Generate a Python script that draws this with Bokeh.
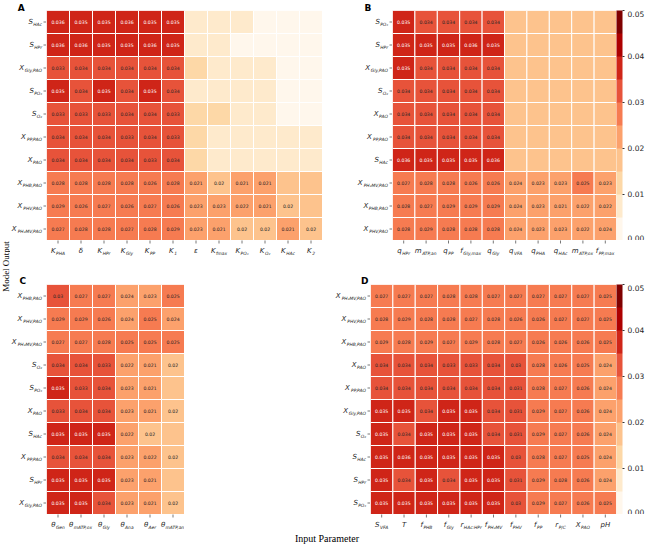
import math
from bokeh.plotting import figure
from bokeh.layouts import row, column
from bokeh.models import (ColumnDataSource, LinearColorMapper, ColorBar, FixedTicker,
                          PrintfTickFormatter, FactorRange, Range1d, Spacer)
from bokeh.core.properties import value
from bokeh.embed import file_html
from bokeh.resources import INLINE

# ---------------- data ----------------
A_rows = [("S", "HAc"), ("S", "HPr"), ("X", "Gly,PAO"), ("S", "PO₄"), ("S", "O₂"),
          ("X", "PP,PAO"), ("X", "PAO"), ("X", "PHB,PAO"), ("X", "PHV,PAO"), ("X", "PH₂MV,PAO")]
A_cols = [("K", "PHA"), ("δ", ""), ("K", "HPr"), ("K", "Gly"), ("K", "PP"), ("K", "1"),
          ("ε", ""), ("K", "fmax"), ("K", "PO₄"), ("K", "O₂"), ("K", "HAc"), ("K", "2")]
A_vals = [
    [0.036, 0.035, 0.035, 0.036, 0.035, 0.035, 0.008, 0.008, 0.009, 0.004, 0.004, 0.004],
    [0.036, 0.036, 0.035, 0.035, 0.036, 0.035, 0.008, 0.008, 0.004, 0.004, 0.004, 0.004],
    [0.033, 0.034, 0.034, 0.034, 0.034, 0.034, 0.012, 0.008, 0.008, 0.008, 0.004, 0.004],
    [0.035, 0.034, 0.035, 0.034, 0.035, 0.034, 0.008, 0.008, 0.008, 0.008, 0.004, 0.004],
    [0.033, 0.033, 0.033, 0.034, 0.034, 0.033, 0.012, 0.012, 0.008, 0.008, 0.004, 0.004],
    [0.034, 0.034, 0.034, 0.033, 0.034, 0.033, 0.012, 0.008, 0.008, 0.008, 0.008, 0.008],
    [0.034, 0.034, 0.034, 0.034, 0.033, 0.034, 0.012, 0.008, 0.008, 0.008, 0.008, 0.008],
    [0.028, 0.028, 0.028, 0.028, 0.026, 0.028, 0.021, 0.0198, 0.021, 0.021, 0.019, 0.019],
    [0.029, 0.026, 0.027, 0.026, 0.027, 0.026, 0.023, 0.023, 0.022, 0.021, 0.0198, 0.019],
    [0.027, 0.028, 0.028, 0.027, 0.028, 0.029, 0.023, 0.021, 0.0198, 0.0198, 0.021, 0.0198],
]

B_rows = [("S", "PO₄"), ("S", "HPr"), ("X", "Gly,PAO"), ("S", "O₂"), ("X", "PAO"),
          ("X", "PP,PAO"), ("S", "HAc"), ("X", "PH₂MV,PAO"), ("X", "PHB,PAO"), ("X", "PHV,PAO")]
B_cols = [("q", "HPr"), ("m", "ATP,an"), ("q", "PP"), ("f", "Gly,max"), ("q", "Gly"),
          ("q", "VFA"), ("q", "PHA"), ("q", "HAc"), ("m", "ATP,ox"), ("f", "PP,max")]
B_vals = [
    [0.035, 0.034, 0.034, 0.034, 0.034, 0.016, 0.016, 0.016, 0.016, 0.016],
    [0.035, 0.035, 0.035, 0.036, 0.035, 0.016, 0.016, 0.016, 0.016, 0.016],
    [0.035, 0.034, 0.034, 0.034, 0.034, 0.016, 0.016, 0.016, 0.016, 0.016],
    [0.034, 0.034, 0.034, 0.034, 0.034, 0.016, 0.016, 0.018, 0.016, 0.016],
    [0.034, 0.034, 0.034, 0.034, 0.034, 0.016, 0.016, 0.018, 0.016, 0.016],
    [0.034, 0.034, 0.034, 0.034, 0.034, 0.016, 0.016, 0.018, 0.016, 0.016],
    [0.036, 0.035, 0.035, 0.035, 0.036, 0.016, 0.016, 0.016, 0.016, 0.016],
    [0.027, 0.028, 0.028, 0.026, 0.026, 0.024, 0.023, 0.023, 0.025, 0.023],
    [0.028, 0.027, 0.029, 0.029, 0.029, 0.024, 0.023, 0.021, 0.022, 0.022],
    [0.028, 0.029, 0.028, 0.028, 0.028, 0.024, 0.023, 0.023, 0.022, 0.024],
]

C_rows = [("X", "PHB,PAO"), ("X", "PHV,PAO"), ("X", "PH₂MV,PAO"), ("S", "O₂"), ("S", "PO₄"),
          ("X", "PAO"), ("S", "HAc"), ("X", "PP,PAO"), ("S", "HPr"), ("X", "Gly,PAO")]
C_cols = [("θ", "Gen"), ("θ", "mATP,ox"), ("θ", "Gly"), ("θ", "Ana"), ("θ", "Aer"), ("θ", "mATP,an")]
C_vals = [
    [0.030, 0.027, 0.027, 0.024, 0.023, 0.025],
    [0.029, 0.029, 0.026, 0.024, 0.025, 0.024],
    [0.027, 0.027, 0.028, 0.025, 0.025, 0.025],
    [0.034, 0.034, 0.033, 0.022, 0.021, 0.0198],
    [0.035, 0.033, 0.034, 0.023, 0.021, 0.019],
    [0.033, 0.034, 0.034, 0.023, 0.021, 0.0198],
    [0.035, 0.035, 0.035, 0.022, 0.0198, 0.019],
    [0.034, 0.034, 0.034, 0.023, 0.022, 0.0198],
    [0.035, 0.035, 0.035, 0.023, 0.021, 0.019],
    [0.035, 0.035, 0.034, 0.023, 0.021, 0.0198],
]

D_rows = [("X", "PH₂MV,PAO"), ("X", "PHV,PAO"), ("X", "PHB,PAO"), ("X", "PAO"), ("X", "PP,PAO"),
          ("X", "Gly,PAO"), ("S", "O₂"), ("S", "HAc"), ("S", "HPr"), ("S", "PO₄")]
D_cols = [("S", "VFA"), ("T", ""), ("f", "PHB"), ("f", "Gly"), ("r", "HAc:HPr"), ("f", "PH₂MV"),
          ("f", "PHV"), ("f", "PP"), ("r", "P/C"), ("X", "PAO"), ("pH", "")]
D_vals = [
    [0.027, 0.027, 0.027, 0.028, 0.028, 0.027, 0.027, 0.027, 0.027, 0.027, 0.025],
    [0.028, 0.029, 0.028, 0.028, 0.027, 0.028, 0.026, 0.026, 0.027, 0.027, 0.025],
    [0.029, 0.028, 0.029, 0.027, 0.029, 0.028, 0.027, 0.026, 0.026, 0.026, 0.025],
    [0.034, 0.034, 0.034, 0.033, 0.033, 0.034, 0.030, 0.028, 0.026, 0.025, 0.024],
    [0.034, 0.034, 0.034, 0.034, 0.034, 0.034, 0.031, 0.028, 0.027, 0.026, 0.024],
    [0.035, 0.035, 0.034, 0.035, 0.035, 0.034, 0.031, 0.029, 0.027, 0.026, 0.024],
    [0.035, 0.034, 0.035, 0.035, 0.035, 0.034, 0.031, 0.029, 0.027, 0.026, 0.024],
    [0.035, 0.036, 0.035, 0.035, 0.035, 0.035, 0.030, 0.028, 0.027, 0.025, 0.024],
    [0.035, 0.034, 0.035, 0.034, 0.035, 0.035, 0.031, 0.029, 0.028, 0.026, 0.024],
    [0.035, 0.035, 0.035, 0.035, 0.035, 0.035, 0.030, 0.029, 0.027, 0.026, 0.025],
]

cbar_ticks = [0.0, 0.01, 0.02, 0.03, 0.04, 0.05]

# ---------------- styling ----------------
ORRD = ["#fff7ec", "#fee8c8", "#fdd49e", "#fdbb84", "#fc8d59", "#ef6548", "#d7301f", "#b30000", "#7f0000"]


def hex2rgb(h):
    return tuple(int(h[i:i + 2], 16) for i in (1, 3, 5))


def build_palette(anchors, n):
    out = []
    for i in range(n):
        t = i / (n - 1) * (len(anchors) - 1)
        k = min(int(t), len(anchors) - 2)
        f = t - k
        a, b = hex2rgb(anchors[k]), hex2rgb(anchors[k + 1])
        out.append("#%02x%02x%02x" % tuple(round(a[j] + (b[j] - a[j]) * f) for j in range(3)))
    return out


PAL = build_palette(ORRD, 10)
mapper = LinearColorMapper(palette=PAL, low=-1e-6, high=0.05)

FONT = "DejaVu Sans"
TXT = "#262626"
TICK = "#555555"
MAIN_FS, SUB_FS = 7.0, 4.4
TL = 3  # tick length in px

CW = {'A': .684, 'B': .686, 'C': .698, 'D': .770, 'E': .632, 'F': .575, 'G': .775, 'H': .752,
      'I': .295, 'K': .656, 'L': .557, 'M': .863, 'N': .748, 'O': .787, 'P': .603, 'R': .695,
      'S': .635, 'T': .611, 'V': .684, 'X': .685, 'a': .613, 'c': .550, 'e': .615, 'f': .352,
      'g': .635, 'h': .634, 'i': .278, 'l': .278, 'm': .974, 'n': .634, 'o': .612, 'p': .635,
      'q': .635, 'r': .411, 's': .521, 't': .392, 'u': .634, 'v': .592, 'x': .592, 'y': .592,
      'θ': .602, 'δ': .612, 'ε': .541, ',': .318, ':': .337, '/': .337, '₂': .40, '₄': .40}


def tw(s, fs):
    return sum(CW.get(ch, .636) for ch in s) * fs


def key(t):
    return t[0] + ("_" + t[1] if t[1] else "")


def base_fig(**kw):
    p = figure(toolbar_location=None, tools="", output_backend="svg",
               x_axis_location=None, y_axis_location=None, **kw)
    p.outline_line_color = None
    p.background_fill_color = "white"
    p.border_fill_color = "white"
    p.grid.visible = False
    return p


def panel(rows, cols, vals, letter, T, H, ylab_w, frame_w, rb, letter_x, letter_up, with_cbar):
    n = len(rows)
    rh = H / n
    rk = [key(r) for r in rows]
    ck = [key(c) for c in cols]
    xr = FactorRange(factors=ck)
    yr = FactorRange(factors=list(reversed(rk)))
    cx, ry, vv, lab, tc = [], [], [], [], []
    for i, r in enumerate(rk):
        for j, c in enumerate(ck):
            v = vals[i][j]
            cx.append(c); ry.append(r); vv.append(v)
            lab.append(f"{v:.2g}" if round(v, 3) >= 0.02 else "")
            tc.append("white" if v >= 0.0349 else TXT)
    src = ColumnDataSource(dict(c=cx, r=ry, v=vv, lab=lab, tc=tc))

    p = base_fig(x_range=xr, y_range=yr, frame_width=frame_w, frame_height=H, min_border=0)
    p.rect(x="c", y="r", width=1, height=1, source=src,
           fill_color={"field": "v", "transform": mapper}, line_color="white", line_width=1)
    p.text(x="c", y="r", text="lab", source=src, text_color="tc", text_font=value(FONT),
           text_font_size="4.6px", text_align="center", text_baseline="middle")
    if with_cbar:
        cb = ColorBar(color_mapper=mapper, ticker=FixedTicker(ticks=cbar_ticks),
                      formatter=PrintfTickFormatter(format="%.2f"), width=6, padding=0, margin=8,
                      label_standoff=3, major_tick_out=2, major_tick_in=0,
                      major_tick_line_color="#333333", major_label_text_font_size="7.5px",
                      major_label_text_color=TXT, major_label_text_font=FONT,
                      bar_line_color=None, border_line_color=None, background_fill_alpha=0)
        p.add_layout(cb, "right")

    # row labels + ticks + panel letter (row i sits at index position n - i - 0.5)
    top = n + T / rh
    ylab = base_fig(x_range=Range1d(0, 1), y_range=Range1d(0, top),
                    frame_width=ylab_w, frame_height=H + T, min_border=0)
    gap = TL + 1.5
    ypos = [n - i - 0.5 for i in range(n)]
    ysrc = ColumnDataSource(dict(
        y=ypos, x=[1.0] * n, m=[r[0] for r in rows], s=[r[1] for r in rows],
        mo=[-(gap + tw(r[1], SUB_FS) + 0.3) for r in rows]))
    ylab.scatter(x="x", y="y", source=ysrc, marker="dash", size=2 * TL,
                 line_color=TICK, line_width=0.8)
    ylab.text(x="x", y="y", text="m", source=ysrc, x_offset="mo", text_align="right",
              text_baseline="middle", text_font=value(FONT), text_font_style="italic",
              text_font_size=f"{MAIN_FS}px", text_color=TXT)
    ylab.text(x="x", y="y", text="s", source=ysrc, x_offset=-gap, y_offset=2, text_align="right",
              text_baseline="middle", text_font=value(FONT), text_font_style="italic",
              text_font_size=f"{SUB_FS}px", text_color=TXT)
    ylab.text(x=[letter_x], y=[n + letter_up / rh], text=[letter], text_align="left",
              text_baseline="alphabetic", text_font=value(FONT), text_font_style="bold",
              text_font_size="9px", text_color="black")

    # column labels + ticks
    XH = 18
    xlab = base_fig(x_range=xr, y_range=Range1d(0, 1), frame_width=frame_w, frame_height=XH,
                    min_border=0)
    tot = [tw(c[0], MAIN_FS) + (tw(c[1], SUB_FS) + 0.5 if c[1] else 0) for c in cols]
    ly = 1 - (TL + 7.5) / XH
    xsrc = ColumnDataSource(dict(
        x=ck, y=[ly] * len(ck), ty=[1.0] * len(ck), m=[c[0] for c in cols], s=[c[1] for c in cols],
        mo=[-t / 2 for t in tot],
        so=[-t / 2 + tw(c[0], MAIN_FS) + 0.5 for t, c in zip(tot, cols)]))
    xlab.scatter(x="x", y="ty", source=xsrc, marker="dash", size=2 * TL, angle=math.pi / 2,
                 line_color=TICK, line_width=0.8)
    xlab.text(x="x", y="y", text="m", source=xsrc, x_offset="mo", text_align="left",
              text_baseline="middle", text_font=value(FONT), text_font_style="italic",
              text_font_size=f"{MAIN_FS}px", text_color=TXT)
    xlab.text(x="x", y="y", text="s", source=xsrc, x_offset="so", y_offset=2, text_align="left",
              text_baseline="middle", text_font=value(FONT), text_font_style="italic",
              text_font_size=f"{SUB_FS}px", text_color=TXT)

    heat = column(Spacer(width=frame_w, height=T), p)
    parts = [ylab, heat]
    if rb:
        parts.append(Spacer(width=rb, height=H + T))
    return column(row(*parts), row(Spacer(width=ylab_w, height=XH), xlab))


H = 230
blockA = panel(A_rows, A_cols, A_vals, "A", 10, H, 36, 276, 0, 0.2, 3, False)
blockB = panel(B_rows, B_cols, B_vals, "B", 10, H, 70, 224, 0, 0.60, 3, True)
blockC = panel(C_rows, C_cols, C_vals, "C", 26, H, 36, 138, 138, 0.25, 4, False)
blockD = panel(D_rows, D_cols, D_vals, "D", 26, H, 48, 246, 0, 0.80, 4, True)

mfig = base_fig(x_range=Range1d(0, 1), y_range=Range1d(0, 1), width=10, height=532, min_border=0)
mfig.text(x=[0.5], y=[0.5], text=["Model Output"], angle=math.pi / 2, text_align="center",
          text_baseline="middle", text_font=value("Liberation Serif"), text_font_size="9px",
          text_color="black")

ifig = base_fig(x_range=Range1d(0, 1), y_range=Range1d(0, 1), width=653, height=12, min_border=0)
ifig.text(x=[0.5], y=[0.5], text=["Input Parameter"], text_align="center",
          text_baseline="middle", text_font=value("Liberation Serif"), text_font_size="10px",
          text_color="black")

layout = column(row(mfig, column(row(blockA, blockB), row(blockC, blockD))), ifig)

open("out.html", "w").write(file_html(layout, INLINE))
